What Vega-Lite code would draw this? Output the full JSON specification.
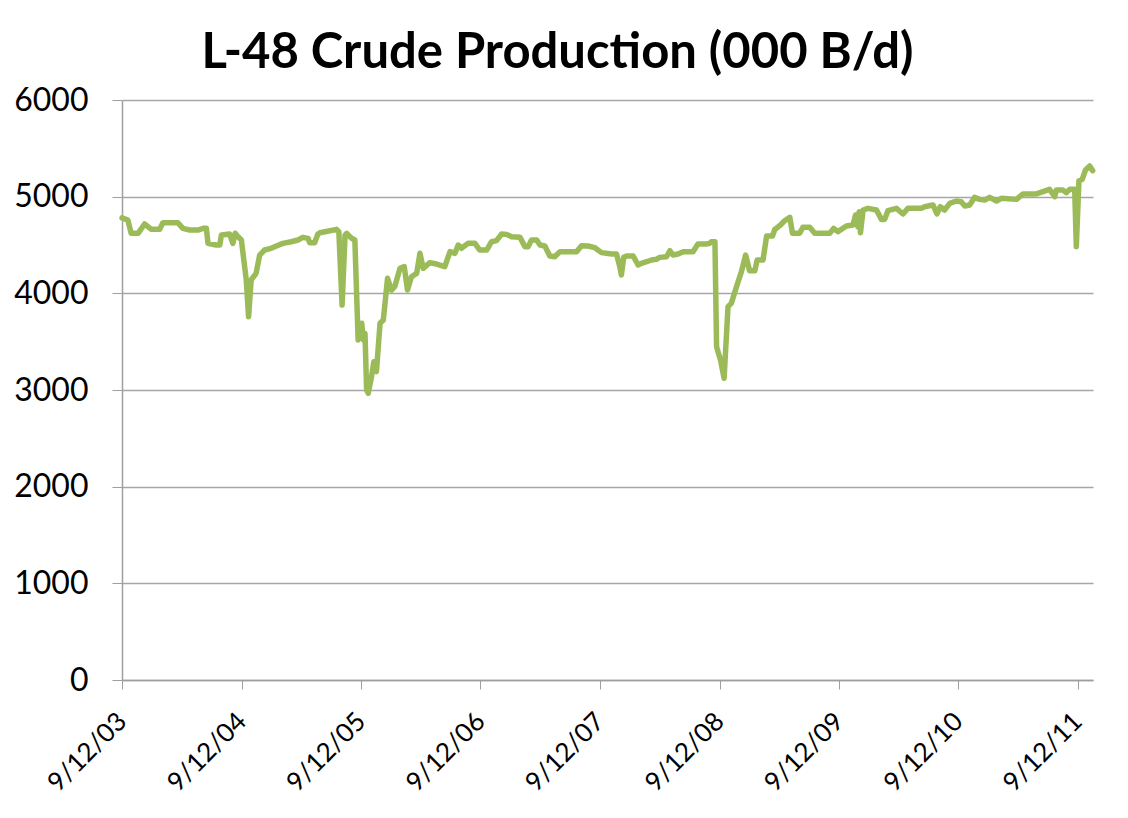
{
  "$schema": "https://vega.github.io/schema/vega-lite/v6.json",
  "width": 971,
  "height": 580,
  "autosize": {"type": "none"},
  "padding": {"left": 122, "top": 100, "right": 35, "bottom": 138},
  "background": "#ffffff",
  "title": {
    "text": "L-48 Crude Production (000 B/d)",
    "font": "Lato",
    "fontSize": 49,
    "fontWeight": "bold",
    "color": "#000000",
    "anchor": "middle",
    "dx": -50,
    "baseline": "alphabetic",
    "offset": -33
  },
  "data": {
    "values": [
      {"date": "2003-09-12", "value": 4780},
      {"date": "2003-09-30", "value": 4758},
      {"date": "2003-10-10", "value": 4621},
      {"date": "2003-10-31", "value": 4621},
      {"date": "2003-11-20", "value": 4717},
      {"date": "2003-12-11", "value": 4662},
      {"date": "2004-01-05", "value": 4662},
      {"date": "2004-01-15", "value": 4731},
      {"date": "2004-03-01", "value": 4731},
      {"date": "2004-03-16", "value": 4672},
      {"date": "2004-04-06", "value": 4655},
      {"date": "2004-05-01", "value": 4655},
      {"date": "2004-05-17", "value": 4672},
      {"date": "2004-05-27", "value": 4672},
      {"date": "2004-06-01", "value": 4517},
      {"date": "2004-06-26", "value": 4500},
      {"date": "2004-07-07", "value": 4500},
      {"date": "2004-07-12", "value": 4603},
      {"date": "2004-08-06", "value": 4614},
      {"date": "2004-08-16", "value": 4517},
      {"date": "2004-08-23", "value": 4621},
      {"date": "2004-09-01", "value": 4586},
      {"date": "2004-09-11", "value": 4552},
      {"date": "2004-09-26", "value": 4138},
      {"date": "2004-10-03", "value": 3758},
      {"date": "2004-10-11", "value": 4138},
      {"date": "2004-10-26", "value": 4207},
      {"date": "2004-11-06", "value": 4396},
      {"date": "2004-11-21", "value": 4448},
      {"date": "2004-12-11", "value": 4466},
      {"date": "2004-12-27", "value": 4490},
      {"date": "2005-01-16", "value": 4517},
      {"date": "2005-02-10", "value": 4534},
      {"date": "2005-03-03", "value": 4552},
      {"date": "2005-03-18", "value": 4579},
      {"date": "2005-04-03", "value": 4569},
      {"date": "2005-04-08", "value": 4524},
      {"date": "2005-04-23", "value": 4524},
      {"date": "2005-05-03", "value": 4614},
      {"date": "2005-05-09", "value": 4627},
      {"date": "2005-06-09", "value": 4648},
      {"date": "2005-06-29", "value": 4662},
      {"date": "2005-07-06", "value": 4638},
      {"date": "2005-07-16", "value": 3879},
      {"date": "2005-07-25", "value": 4603},
      {"date": "2005-07-30", "value": 4621},
      {"date": "2005-08-14", "value": 4569},
      {"date": "2005-08-24", "value": 4552},
      {"date": "2005-09-03", "value": 3517},
      {"date": "2005-09-14", "value": 3690},
      {"date": "2005-09-19", "value": 3517},
      {"date": "2005-09-24", "value": 3586},
      {"date": "2005-09-29", "value": 3000},
      {"date": "2005-10-04", "value": 2966},
      {"date": "2005-10-14", "value": 3138},
      {"date": "2005-10-21", "value": 3293},
      {"date": "2005-10-29", "value": 3190},
      {"date": "2005-11-09", "value": 3690},
      {"date": "2005-11-19", "value": 3724},
      {"date": "2005-12-02", "value": 4155},
      {"date": "2005-12-14", "value": 4034},
      {"date": "2005-12-24", "value": 4069},
      {"date": "2006-01-09", "value": 4259},
      {"date": "2006-01-22", "value": 4276},
      {"date": "2006-02-01", "value": 4034},
      {"date": "2006-02-13", "value": 4172},
      {"date": "2006-03-01", "value": 4207},
      {"date": "2006-03-11", "value": 4414},
      {"date": "2006-03-21", "value": 4259},
      {"date": "2006-04-10", "value": 4317},
      {"date": "2006-05-01", "value": 4303},
      {"date": "2006-05-26", "value": 4276},
      {"date": "2006-06-11", "value": 4431},
      {"date": "2006-06-26", "value": 4414},
      {"date": "2006-07-06", "value": 4500},
      {"date": "2006-07-16", "value": 4466},
      {"date": "2006-08-05", "value": 4517},
      {"date": "2006-08-26", "value": 4517},
      {"date": "2006-09-10", "value": 4448},
      {"date": "2006-10-01", "value": 4448},
      {"date": "2006-10-16", "value": 4534},
      {"date": "2006-10-31", "value": 4545},
      {"date": "2006-11-16", "value": 4614},
      {"date": "2006-12-01", "value": 4610},
      {"date": "2006-12-16", "value": 4586},
      {"date": "2007-01-11", "value": 4579},
      {"date": "2007-01-26", "value": 4483},
      {"date": "2007-02-05", "value": 4483},
      {"date": "2007-02-15", "value": 4552},
      {"date": "2007-03-03", "value": 4552},
      {"date": "2007-03-13", "value": 4500},
      {"date": "2007-03-28", "value": 4490},
      {"date": "2007-04-12", "value": 4386},
      {"date": "2007-04-27", "value": 4379},
      {"date": "2007-05-13", "value": 4431},
      {"date": "2007-07-03", "value": 4431},
      {"date": "2007-07-18", "value": 4493},
      {"date": "2007-08-07", "value": 4490},
      {"date": "2007-08-28", "value": 4472},
      {"date": "2007-09-17", "value": 4421},
      {"date": "2007-10-18", "value": 4407},
      {"date": "2007-11-02", "value": 4407},
      {"date": "2007-11-12", "value": 4276},
      {"date": "2007-11-17", "value": 4190},
      {"date": "2007-11-24", "value": 4372},
      {"date": "2007-12-03", "value": 4386},
      {"date": "2007-12-23", "value": 4386},
      {"date": "2008-01-07", "value": 4293},
      {"date": "2008-01-17", "value": 4310},
      {"date": "2008-02-02", "value": 4327},
      {"date": "2008-02-17", "value": 4345},
      {"date": "2008-03-03", "value": 4352},
      {"date": "2008-03-13", "value": 4372},
      {"date": "2008-04-03", "value": 4379},
      {"date": "2008-04-13", "value": 4441},
      {"date": "2008-04-23", "value": 4396},
      {"date": "2008-05-08", "value": 4407},
      {"date": "2008-05-24", "value": 4431},
      {"date": "2008-06-23", "value": 4431},
      {"date": "2008-07-08", "value": 4510},
      {"date": "2008-08-03", "value": 4510},
      {"date": "2008-08-13", "value": 4517},
      {"date": "2008-08-18", "value": 4534},
      {"date": "2008-08-29", "value": 4534},
      {"date": "2008-09-03", "value": 3448},
      {"date": "2008-09-15", "value": 3310},
      {"date": "2008-09-26", "value": 3121},
      {"date": "2008-10-08", "value": 3862},
      {"date": "2008-10-18", "value": 3896},
      {"date": "2008-11-03", "value": 4069},
      {"date": "2008-11-18", "value": 4224},
      {"date": "2008-12-01", "value": 4396},
      {"date": "2008-12-13", "value": 4234},
      {"date": "2008-12-29", "value": 4234},
      {"date": "2009-01-05", "value": 4345},
      {"date": "2009-01-23", "value": 4345},
      {"date": "2009-02-03", "value": 4593},
      {"date": "2009-02-21", "value": 4593},
      {"date": "2009-02-28", "value": 4660},
      {"date": "2009-03-15", "value": 4700},
      {"date": "2009-03-30", "value": 4750},
      {"date": "2009-04-15", "value": 4786},
      {"date": "2009-04-23", "value": 4621},
      {"date": "2009-05-15", "value": 4621},
      {"date": "2009-05-25", "value": 4683},
      {"date": "2009-06-15", "value": 4683},
      {"date": "2009-06-30", "value": 4621},
      {"date": "2009-08-15", "value": 4621},
      {"date": "2009-08-27", "value": 4672},
      {"date": "2009-09-09", "value": 4638},
      {"date": "2009-10-05", "value": 4696},
      {"date": "2009-10-25", "value": 4707},
      {"date": "2009-11-02", "value": 4810},
      {"date": "2009-11-09", "value": 4690},
      {"date": "2009-11-13", "value": 4845},
      {"date": "2009-11-17", "value": 4627},
      {"date": "2009-11-25", "value": 4862},
      {"date": "2009-12-10", "value": 4879},
      {"date": "2010-01-05", "value": 4862},
      {"date": "2010-01-20", "value": 4765},
      {"date": "2010-01-30", "value": 4765},
      {"date": "2010-02-09", "value": 4855},
      {"date": "2010-03-07", "value": 4879},
      {"date": "2010-03-27", "value": 4821},
      {"date": "2010-04-11", "value": 4879},
      {"date": "2010-05-22", "value": 4879},
      {"date": "2010-06-01", "value": 4896},
      {"date": "2010-06-27", "value": 4914},
      {"date": "2010-07-09", "value": 4821},
      {"date": "2010-07-19", "value": 4896},
      {"date": "2010-08-01", "value": 4862},
      {"date": "2010-08-17", "value": 4931},
      {"date": "2010-09-06", "value": 4955},
      {"date": "2010-09-21", "value": 4948},
      {"date": "2010-10-02", "value": 4903},
      {"date": "2010-10-17", "value": 4914},
      {"date": "2010-11-01", "value": 4993},
      {"date": "2010-11-16", "value": 4972},
      {"date": "2010-12-02", "value": 4966},
      {"date": "2010-12-17", "value": 4993},
      {"date": "2011-01-07", "value": 4955},
      {"date": "2011-01-22", "value": 4983},
      {"date": "2011-03-09", "value": 4972},
      {"date": "2011-03-29", "value": 5028},
      {"date": "2011-05-09", "value": 5028},
      {"date": "2011-05-29", "value": 5052},
      {"date": "2011-06-18", "value": 5076},
      {"date": "2011-07-04", "value": 5000},
      {"date": "2011-07-09", "value": 5069},
      {"date": "2011-07-29", "value": 5069},
      {"date": "2011-08-08", "value": 5041},
      {"date": "2011-08-19", "value": 5076},
      {"date": "2011-09-03", "value": 5076},
      {"date": "2011-09-08", "value": 4483},
      {"date": "2011-09-16", "value": 5165},
      {"date": "2011-09-26", "value": 5179},
      {"date": "2011-10-06", "value": 5276},
      {"date": "2011-10-19", "value": 5317},
      {"date": "2011-10-28", "value": 5269}
    ]
  },
  "mark": {
    "type": "line",
    "color": "#9BBB59",
    "strokeWidth": 5.5,
    "strokeJoin": "round",
    "strokeCap": "round"
  },
  "encoding": {
    "x": {
      "field": "date",
      "type": "temporal",
      "scale": {
        "type": "utc",
        "domain": [
          {"year": 2003, "month": 9, "date": 12, "utc": true},
          {"year": 2011, "month": 10, "date": 29, "utc": true}
        ]
      },
      "axis": {
        "title": null,
        "values": [
          {"year": 2003, "month": 9, "date": 12, "utc": true},
          {"year": 2004, "month": 9, "date": 12, "utc": true},
          {"year": 2005, "month": 9, "date": 12, "utc": true},
          {"year": 2006, "month": 9, "date": 12, "utc": true},
          {"year": 2007, "month": 9, "date": 12, "utc": true},
          {"year": 2008, "month": 9, "date": 12, "utc": true},
          {"year": 2009, "month": 9, "date": 12, "utc": true},
          {"year": 2010, "month": 9, "date": 12, "utc": true},
          {"year": 2011, "month": 9, "date": 12, "utc": true}
        ],
        "format": "%-m/%-d/%y",
        "grid": false,
        "labelAngle": -45,
        "labelAlign": "right",
        "labelBaseline": "middle",
        "labelPadding": 28,
        "labelFont": "Lato",
        "labelFontSize": 26,
        "labelColor": "#000000",
        "labelOverlap": false,
        "labelFlush": false,
        "tickSize": 9,
        "tickColor": "#9F9F9F",
        "domainColor": "#9F9F9F",
        "domainWidth": 1.5
      }
    },
    "y": {
      "field": "value",
      "type": "quantitative",
      "scale": {"domain": [0, 6000], "nice": false},
      "axis": {
        "title": null,
        "values": [0, 1000, 2000, 3000, 4000, 5000, 6000],
        "format": "d",
        "grid": true,
        "gridColor": "#A6A6A6",
        "gridWidth": 1.3,
        "labelFont": "Lato",
        "labelFontSize": 32,
        "labelColor": "#000000",
        "labelPadding": 24,
        "tickSize": 10,
        "tickColor": "#9F9F9F",
        "domainColor": "#9F9F9F",
        "domainWidth": 1.5
      }
    }
  },
  "config": {
    "view": {"stroke": null}
  }
}
